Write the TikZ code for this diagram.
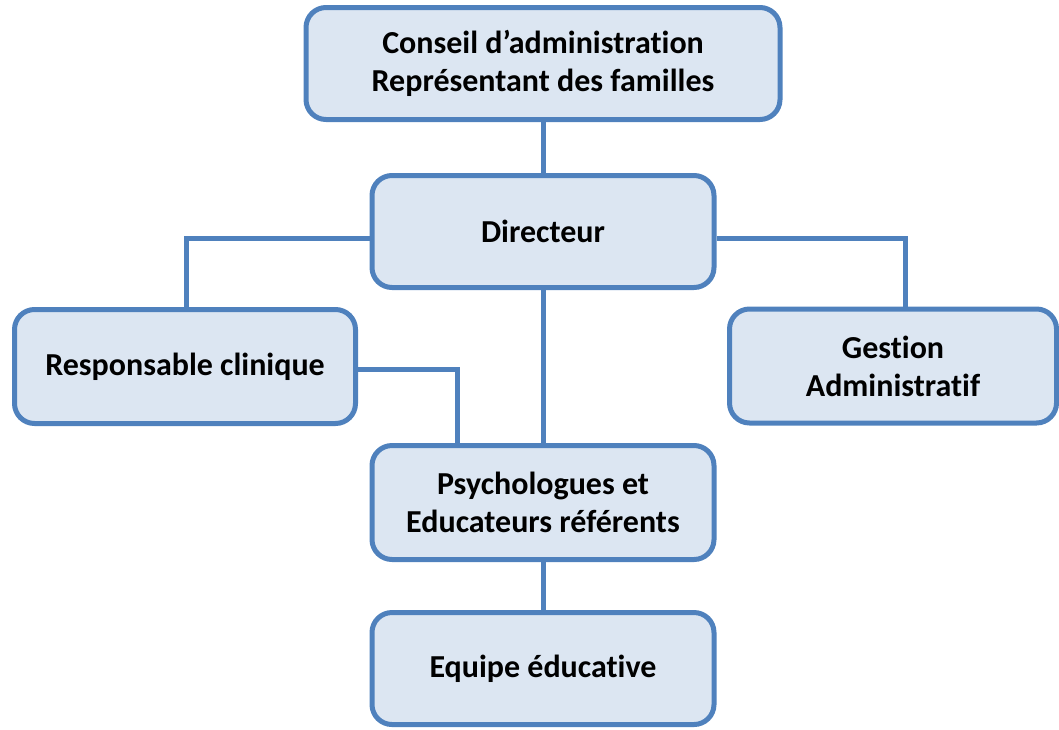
\documentclass[tikz,border=0pt]{standalone}
\usepackage{fontspec}
\setmainfont{Carlito}[Ligatures=NoCommon]
\definecolor{boxfill}{HTML}{DCE6F2}
\definecolor{boxline}{HTML}{4F81BD}
\begin{document}
\begin{tikzpicture}[x=1pt,y=-1pt,
  orgbox/.style={draw=boxline, fill=boxfill, line width=5pt, rounded corners=20pt,
    align=center, inner sep=0pt, font=\fontsize{32}{38}\selectfont\bfseries},
  link/.style={draw=boxline, line width=5pt}]
\useasboundingbox (0,0) rectangle (1059,729);
\node[orgbox, minimum width=474pt, minimum height=112pt] (ca) at (543,63.5)
  {Conseil d’administration\\Représentant des familles};
\node[orgbox, minimum width=342pt, minimum height=112pt] (dir) at (543,231.5) {Directeur};
\node[orgbox, minimum width=341pt, minimum height=114pt] (resp) at (185,366.5) {Responsable clinique};
\node[orgbox, minimum width=327pt, minimum height=114pt] (gest) at (893,366) {Gestion\\Administratif};
\node[orgbox, minimum width=342pt, minimum height=114pt] (psy) at (543,502.5) {Psychologues et\\Educateurs référents};
\node[orgbox, minimum width=342pt, minimum height=112pt] (eq) at (543,668.5) {Equipe éducative};
\draw[link] (ca.south) -- (dir.north);
\draw[link] ([yshift=-6.5pt]dir.west) -| ([xshift=1pt]resp.north);
\draw[link] ([yshift=-6.5pt]dir.east) -| ([xshift=12pt]gest.north);
\draw[link] (dir.south) -- (psy.north);
\draw[link] ([yshift=-3pt]resp.east) -| ([xshift=-86pt]psy.north);
\draw[link] (psy.south) -- (eq.north);
\end{tikzpicture}
\end{document}
